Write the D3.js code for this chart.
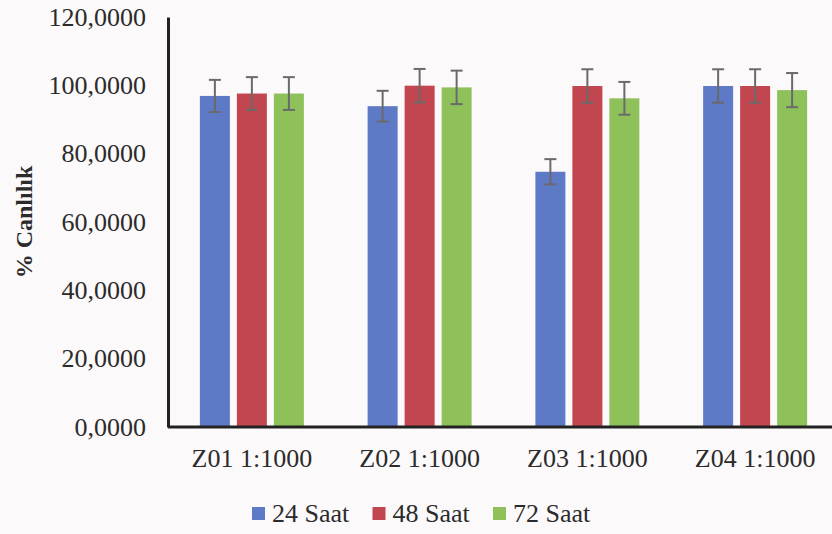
<!DOCTYPE html>
<meta charset="utf-8">
<style>
  body { margin: 0; background: #fcf9fa; }
  svg { display: block; background: #fcf9fa; }
  .axis path { stroke: #222; stroke-width: 3px; }
</style>
<body>
<div id="chart"></div>
<script src="https://d3js.org/d3.v7.min.js"></script>
<script>

var categories = ["Z01 1:1000", "Z02 1:1000", "Z03 1:1000", "Z04 1:1000"];
var seriesNames = ["24 Saat", "48 Saat", "72 Saat"];
var saat24 = [96.9, 93.9, 74.7, 99.8];
var saat48 = [97.6, 99.9, 99.8, 99.8];
var saat72 = [97.6, 99.4, 96.2, 98.6];
var err24 = [4.7, 4.5, 3.7, 4.9];
var err48 = [4.8, 4.9, 4.9, 4.9];
var err72 = [4.8, 4.9, 4.8, 5.0];
var yTicks = [0, 20, 40, 60, 80, 100, 120];
var colors = ["#5e79c6", "#c2464f", "#8fc15b"];

var serif = "'Liberation Serif', 'Times New Roman', serif";
var svg_dx = 832, svg_dy = 534;
var margin = {top: 17, left: 168, bottom: 107};

var values = [saat24, saat48, saat72],
    errors = [err24, err48, err72];

var svg = d3.select("#chart")
            .append("svg")
            .attr("width", svg_dx)
            .attr("height", svg_dy);

var y = d3.scaleLinear().domain([0, 120]).range([svg_dy - margin.bottom, margin.top]);

var x0 = d3.scaleBand().domain(categories).range([margin.left, 839]);

var x1 = d3.scaleBand().domain(seriesNames).range([0, 104]).paddingInner(7 / 37);

var locale = d3.formatLocale({decimal: ",", thousands: ".", grouping: [3], currency: ["", ""]});
var fmt = locale.format(".4f");

// bars
var groups = svg.append("g")
                .selectAll("g")
                .data(categories)
                .enter()
                .append("g")
                .attr("transform", d => "translate(" + (x0(d) + x0.bandwidth() / 2 - 52) + ",0)");

groups.each(function (cat, ci) {
    var g = d3.select(this);
    seriesNames.forEach(function (s, si) {
        var v = values[si][ci], e = errors[si][ci];
        g.append("rect")
         .attr("x", x1(s))
         .attr("y", y(v))
         .attr("width", x1.bandwidth())
         .attr("height", y(0) - y(v))
         .attr("fill", colors[si]);

        var cx = x1(s) + x1.bandwidth() / 2;
        var eb = g.append("g")
                  .attr("stroke", "#6a6a6a")
                  .attr("stroke-width", 2);
        eb.append("line").attr("x1", cx).attr("x2", cx).attr("y1", y(v + e)).attr("y2", y(v - e));
        eb.append("line").attr("x1", cx - 6).attr("x2", cx + 6).attr("y1", y(v + e)).attr("y2", y(v + e));
        eb.append("line").attr("x1", cx - 6).attr("x2", cx + 6).attr("y1", y(v - e)).attr("y2", y(v - e));
    });
});

// axes
svg.append("g")
   .attr("class", "axis")
   .attr("transform", "translate(0," + y(0) + ")")
   .call(d3.axisBottom(x0).tickSize(0).tickPadding(22))
   .call(g => g.select(".domain").attr("d", "M" + margin.left + ",0H" + svg_dx));

svg.append("g")
   .attr("class", "axis")
   .attr("transform", "translate(" + margin.left + ",0)")
   .call(d3.axisLeft(y).tickValues(yTicks).tickFormat(fmt).tickSize(0).tickPadding(22));

svg.selectAll(".axis")
   .attr("font-family", serif)
   .attr("font-size", 26);

svg.selectAll(".axis text")
   .style("font-family", serif)
   .style("font-size", "26px")
   .attr("fill", "#2b2b2b");

svg.append("text")
   .attr("transform", "translate(32," + 222 + ") rotate(-90)")
   .attr("text-anchor", "middle")
   .style("font-family", serif)
   .style("font-size", "24px")
   .style("font-weight", "bold")
   .attr("fill", "#2b2b2b")
   .text("% Canlılık");

// legend
var legend = svg.append("g")
                .selectAll("g")
                .data(seriesNames)
                .enter()
                .append("g")
                .attr("transform", (d, i) => "translate(" + (252 + i * 120.5) + ",507)");

legend.append("rect")
      .attr("width", 13)
      .attr("height", 13)
      .attr("fill", (d, i) => colors[i]);

legend.append("text")
      .attr("x", 20)
      .attr("y", 15)
      .style("font-family", serif)
      .style("font-size", "26px")
      .attr("fill", "#2b2b2b")
      .text(d => d);

</script>
</body>
